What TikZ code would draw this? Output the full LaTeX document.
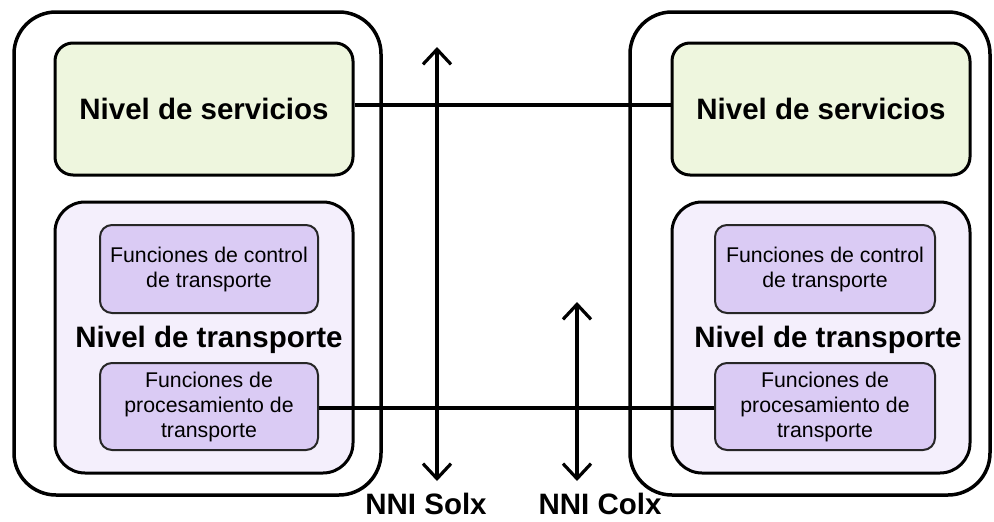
\documentclass[tikz,border=0pt]{standalone}
\usepackage{fontspec}
\setmainfont{Liberation Sans}
\usetikzlibrary{arrows.meta}
\definecolor{svcfill}{HTML}{EEF6DE}
\definecolor{trfill}{HTML}{F4EFFC}
\definecolor{fnfill}{HTML}{DACBF4}
\tikzset{
  outerbox/.style={draw=black, line width=3.5pt, rounded corners=42pt, fill=white, inner sep=0pt},
  svcbox/.style={draw=black, line width=3pt, rounded corners=18pt, fill=svcfill, inner sep=0pt,
     font=\fontsize{29.5}{34}\selectfont\bfseries},
  trbox/.style={draw=black, line width=3pt, rounded corners=30pt, fill=trfill, inner sep=0pt},
  fnbox/.style={draw=black!85, line width=2pt, rounded corners=12pt, fill=fnfill, inner sep=0pt,
     align=center, font=\fontsize{21.3}{25}\selectfont},
  bigtext/.style={font=\fontsize{29.5}{34}\selectfont\bfseries, inner sep=0pt},
  link/.style={line width=4pt},
  arr/.style={line width=3.2pt, {Straight Barb[length=15pt,width=28pt,line width=3.2pt]}-{Straight Barb[length=15pt,width=28pt,line width=3.2pt]}},
}
\begin{document}
\begin{tikzpicture}[x=1pt,y=-1pt]
\useasboundingbox (0,0) rectangle (994,522);
% left side
\node[outerbox, minimum width=367pt, minimum height=483pt] (lout) at (197.5,253.5) {};
\node[svcbox, minimum width=298pt, minimum height=132pt] (lsvc) at (204,109) {Nivel de servicios};
\node[trbox, minimum width=298pt, minimum height=271pt] (ltr) at (204,337.5) {};
\node[fnbox, minimum width=218pt, minimum height=88pt] (lctl) at (209,269) {Funciones de control\\de transporte};
\node[bigtext] (ltrt) at (209,340) {Nivel de transporte};
\node[fnbox, minimum width=218pt, minimum height=87pt] (lproc) at (209,406.5) {Funciones de\\procesamiento de\\transporte};
% right side
\node[outerbox, minimum width=360pt, minimum height=483pt] (rout) at (810,253.5) {};
\node[svcbox, minimum width=298pt, minimum height=132pt] (rsvc) at (821,109) {Nivel de servicios};
\node[trbox, minimum width=298pt, minimum height=271pt] (rtr) at (821,337.5) {};
\node[fnbox, minimum width=220pt, minimum height=88pt] (rctl) at (825,269) {Funciones de control\\de transporte};
\node[bigtext] (rtrt) at (828,340) {Nivel de transporte};
\node[fnbox, minimum width=220pt, minimum height=87pt] (rproc) at (825,406.5) {Funciones de\\procesamiento de\\transporte};
% links
\draw[link] (lsvc.east |- 0,105) -- (rsvc.west |- 0,105);
\draw[link] (lproc.east |- 0,408) -- (rproc.west |- 0,408);
% NNI arrows
\coordinate (sTop) at (437,47);
\coordinate (sBot) at (437,481);
\coordinate (cTop) at (577,302);
\coordinate (cBot) at (577,481);
\draw[arr] (sTop) -- (sBot);
\draw[arr] (cTop) -- (cBot);
\node[bigtext, anchor=base] (nsol) at (426,514) {NNI Solx};
\node[bigtext, anchor=base] (ncol) at (600,514) {NNI Colx};
\end{tikzpicture}
\end{document}
